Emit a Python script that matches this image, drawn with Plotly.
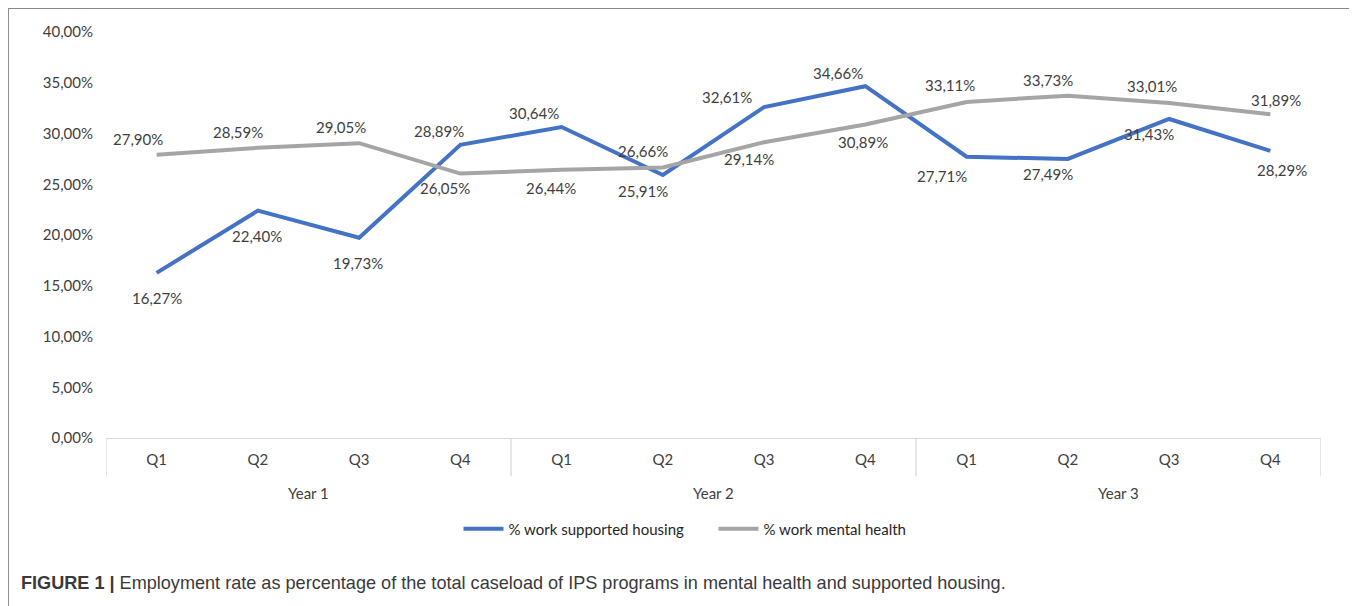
import plotly.graph_objects as go

quarters = ["Q1", "Q2", "Q3", "Q4"] * 3
years = ["Year 1", "Year 2", "Year 3"]
supported_housing = [16.27, 22.40, 19.73, 28.89, 30.64, 25.91, 32.61, 34.66, 27.71, 27.49, 31.43, 28.29]
mental_health = [27.90, 28.59, 29.05, 26.05, 26.44, 26.66, 29.14, 30.89, 33.11, 33.73, 33.01, 31.89]
y_ticks = [0, 5, 10, 15, 20, 25, 30, 35, 40]
y_tick_labels = ["0,00%", "5,00%", "10,00%", "15,00%", "20,00%", "25,00%", "30,00%", "35,00%", "40,00%"]

# label offsets (pixels) – styling only
sh_off = [(0, 25), (-1, 25), (-1, 25), (-21, -14), (-28, -14), (-20, 16), (-37, -10), (-27, -13),
          (-25, 19), (-20, 15), (-20, 15), (12, 19)]
mh_off = [(-19, -16), (-20, -16), (-18, -16), (-15, 14), (-11, 18), (-20, -16), (-15, 17), (-2, 18),
          (-17, -17), (-20, -16), (-17, -17), (6, -14)]

FONT = "Lato"
TXT = "#404040"
BLUE = "#4472C4"
GRAY = "#A5A5A5"

def fmt(v):
    return f"{v:.2f}".replace(".", ",") + "%"

xs = list(range(len(quarters)))

fig = go.Figure()
fig.add_trace(go.Scatter(x=xs, y=supported_housing, mode="lines", name="% work supported housing",
                         line=dict(color=BLUE, width=4)))
fig.add_trace(go.Scatter(x=xs, y=mental_health, mode="lines", name="% work mental health",
                         line=dict(color=GRAY, width=4)))

annotations = []
for i, v in enumerate(supported_housing):
    dx, dy = sh_off[i]
    annotations.append(dict(x=xs[i], y=v, xref="x", yref="y", text=fmt(v), showarrow=False,
                            xshift=dx, yshift=-dy, font=dict(family=FONT, size=15, color=TXT)))
for i, v in enumerate(mental_health):
    dx, dy = mh_off[i]
    annotations.append(dict(x=xs[i], y=v, xref="x", yref="y", text=fmt(v), showarrow=False,
                            xshift=dx, yshift=-dy, font=dict(family=FONT, size=15, color=TXT)))

# year group labels
for j, yr in enumerate(years):
    annotations.append(dict(x=4 * j + 1.5, y=-0.1355, xref="x", yref="paper", yanchor="middle",
                            text=yr, showarrow=False, font=dict(family=FONT, size=15, color=TXT)))

# caption
annotations.append(dict(x=-0.072, y=-0.357, xref="paper", yref="paper", xanchor="left", yanchor="middle",
                        showarrow=False,
                        text="<b>FIGURE 1 |</b> Employment rate as percentage of the total caseload of IPS programs in mental health and supported housing.",
                        font=dict(family="Liberation Sans, Arial", size=18.1, color="#3a3a3a")))

shapes = []
# group separators
for xb in [-0.5, 3.5, 7.5, 11.5]:
    shapes.append(dict(type="line", xref="x", yref="paper", x0=xb, x1=xb, y0=0, y1=-0.094,
                       line=dict(color="#D9D9D9", width=1.3)))
# outer frame
shapes.append(dict(type="rect", xref="paper", yref="paper", x0=-0.0807, x1=1.0239, y0=-0.48, y1=1.059,
                   line=dict(color="#8a8a8a", width=2), layer="below"))

fig.update_layout(
    width=1357, height=606,
    margin=dict(l=98, r=44, t=24, b=176),
    plot_bgcolor="white", paper_bgcolor="white",
    font=dict(family=FONT, size=15, color=TXT),
    showlegend=True,
    legend=dict(orientation="h", x=0.5, xanchor="center", y=-0.224, yanchor="middle",
                font=dict(family=FONT, size=15, color="#262626"), itemwidth=40,
                entrywidth=200, entrywidthmode="pixels", bgcolor="rgba(0,0,0,0)"),
    annotations=annotations,
    shapes=shapes,
)
fig.update_xaxes(range=[-0.5, 11.5], tickmode="array", tickvals=xs, ticktext=quarters,
                 showgrid=False, zeroline=False, showline=True, linecolor="#D9D9D9", linewidth=1.3,
                 ticks="", ticklabelstandoff=8, tickfont=dict(family=FONT, size=15, color=TXT))
fig.update_yaxes(range=[0, 40], tickmode="array", tickvals=y_ticks, ticktext=y_tick_labels,
                 showgrid=False, zeroline=False, showline=False, ticks="", ticklabelstandoff=12,
                 tickfont=dict(family=FONT, size=15, color=TXT))

fig.write_html("out.html")
